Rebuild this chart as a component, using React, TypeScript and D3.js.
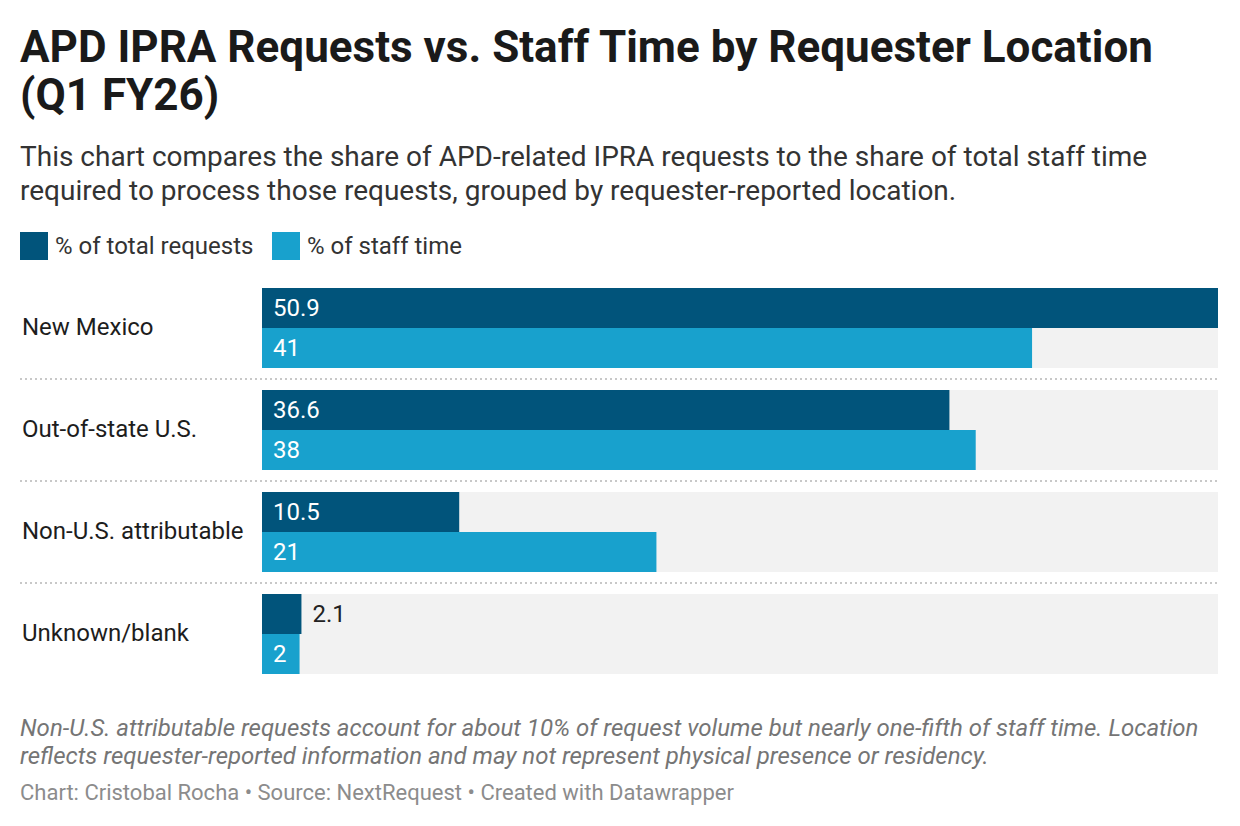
import React from "react";
import * as d3 from "d3";

const categories = ["New Mexico", "Out-of-state U.S.", "Non-U.S. attributable", "Unknown/blank"];
const requestsShare = [50.9, 36.6, 10.5, 2.1];
const staffTimeShare = [41, 38, 21, 2];
const seriesNames = ["% of total requests", "% of staff time"];
const seriesColors = ["#01547b", "#18a1cd"];

const W = 1240;
const H = 826;
const FONT = "Roboto, 'Noto Sans', sans-serif";

export default function App() {
  const x0 = 262;
  const x1 = 1218;
  const x = d3.scaleLinear().domain([0, d3.max(requestsShare.concat(staffTimeShare)) as number]).range([x0, x1]);
  const groupTop = 288;
  const groupStep = 102;
  const barH = 40;
  const y = d3.scaleBand<string>().domain(categories).range([groupTop, groupTop + groupStep * categories.length]).paddingInner(0).paddingOuter(0);

  return (
    <div style={{ margin: -8 }}>
      <svg width={W} height={H} style={{ display: "block", background: "#fff" }} fontFamily={FONT}>
        <text x={20} y={62} fontSize={44} fontWeight={700} fill="#1a1a1a">APD IPRA Requests vs. Staff Time by Requester Location</text>
        <text x={20} y={110} fontSize={44} fontWeight={700} fill="#1a1a1a">(Q1 FY26)</text>
        <text x={20} y={166} fontSize={28} fill="#333">This chart compares the share of APD-related IPRA requests to the share of total staff time</text>
        <text x={20} y={200} fontSize={28} fill="#333">required to process those requests, grouped by requester-reported location.</text>

        {/* legend */}
        <rect x={20} y={232} width={28} height={28} fill={seriesColors[0]} />
        <text x={55} y={254} fontSize={24} fill="#333">{seriesNames[0]}</text>
        <rect x={272} y={232} width={28} height={28} fill={seriesColors[1]} />
        <text x={307} y={254} fontSize={24} fill="#333">{seriesNames[1]}</text>

        {categories.map((c, i) => {
          const gy = y(c) as number;
          const vals = [requestsShare[i], staffTimeShare[i]];
          return (
            <g key={c}>
              <rect x={x0} y={gy} width={x1 - x0} height={barH * 2} fill="#f2f2f2" />
              <text x={22} y={gy + barH + 7} fontSize={24} fill="#1d1d1d">{c}</text>
              {vals.map((v, j) => {
                const w = x(v) - x0;
                const label = String(v);
                const inside = w > label.length * 12 + 20;
                return (
                  <g key={j}>
                    <rect x={x0} y={gy + j * barH} width={w} height={barH} fill={seriesColors[j]} />
                    <text
                      x={inside ? x0 + 11 : x(v) + 11}
                      y={gy + j * barH + 28}
                      fontSize={24}
                      fill={inside ? "#fff" : "#222"}
                    >{label}</text>
                  </g>
                );
              })}
              {i < categories.length - 1 && (
                <line x1={20} x2={x1} y1={gy + groupStep - 11} y2={gy + groupStep - 11} stroke="#c8c8c8" strokeWidth={2} strokeDasharray="2,3" />
              )}
            </g>
          );
        })}

        <text x={20} y={736} fontSize={24} fontStyle="italic" fill="#757575">Non-U.S. attributable requests account for about 10% of request volume but nearly one-fifth of staff time. Location</text>
        <text x={20} y={764} fontSize={24} fontStyle="italic" fill="#757575">reflects requester-reported information and may not represent physical presence or residency.</text>
        <text x={20} y={800} fontSize={22} fill="#8c8c8c">Chart: Cristobal Rocha • Source: NextRequest • Created with Datawrapper</text>
      </svg>
    </div>
  );
}
